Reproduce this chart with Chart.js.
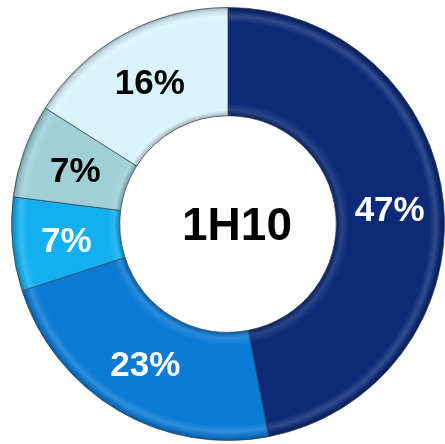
<!DOCTYPE html>
<html>
<head>
<meta charset="utf-8">
<script src="https://cdn.jsdelivr.net/npm/chart.js@4/dist/chart.umd.min.js"></script>
<style>
  html, body { margin: 0; padding: 0; background: #fff; overflow: hidden; }
  #wrap { position: absolute; left: 11px; top: 7px; width: 434px; height: 434px; }
</style>
</head>
<body>
<div id="wrap"><canvas id="donut" width="434" height="434"></canvas></div>
<script>
// dados do gráfico
const categorias = ['A', 'B', 'C', 'D', 'E'];
const valores = [47, 23, 7, 7, 16];
const rotulos = ['47%', '23%', '7%', '7%', '16%'];
const titulo = '1H10';

const cores = ['#0d2a78', '#0b7bd6', '#12b0f0', '#9fd0d8', '#d9f3fb'];
const coresTexto = ['#ffffff', '#ffffff', '#ffffff', '#000000', '#000000'];

function sombra(hex, f) {
    const n = parseInt(hex.slice(1), 16);
    let r = (n >> 16) & 255, g = (n >> 8) & 255, b = n & 255;
    if (f < 0) { r *= 1 + f; g *= 1 + f; b *= 1 + f; }
    else { r += (255 - r) * f; g += (255 - g) * f; b += (255 - b) * f; }
    return `rgb(${Math.round(r)},${Math.round(g)},${Math.round(b)})`;
}

// preenchimento com efeito de bisel
function preenchimento(context) {
    const chart = context.chart;
    const area = chart.chartArea;
    const base = cores[context.dataIndex];
    if (!area) return base;
    const cx = (area.left + area.right) / 2;
    const cy = (area.top + area.bottom) / 2;
    const r = Math.min(area.right - area.left, area.bottom - area.top) / 2 - 0.5;
    const ri = r * 0.5;
    const g = chart.ctx.createRadialGradient(cx, cy, ri, cx, cy, r);
    g.addColorStop(0, sombra(base, -0.25));
    g.addColorStop(0.05, sombra(base, 0.12));
    g.addColorStop(0.12, base);
    g.addColorStop(0.86, base);
    g.addColorStop(0.92, sombra(base, 0.15));
    g.addColorStop(0.97, sombra(base, -0.1));
    g.addColorStop(1, sombra(base, -0.3));
    return g;
}

const rotulosPlugin = {
    id: 'rotulos',
    afterDatasetsDraw(chart) {
        const ctx = chart.ctx;
        const meta = chart.getDatasetMeta(0);
        ctx.save();
        ctx.textAlign = 'center';
        ctx.textBaseline = 'middle';
        ctx.font = 'bold 35px "Liberation Sans", Arial, sans-serif';
        meta.data.forEach((arc, i) => {
            const p = arc.getCenterPoint();
            ctx.fillStyle = coresTexto[i];
            ctx.fillText(rotulos[i], p.x, p.y + 3);
        });
        const a = meta.data[0];
        ctx.fillStyle = '#000';
        ctx.font = 'bold 46px "Liberation Sans", Arial, sans-serif';
        ctx.fillText(titulo, a.x + 9, a.y + 3);
        ctx.restore();
    }
};

const ctx = document.getElementById('donut').getContext('2d');
const grafico = new Chart(ctx, {
    type: 'doughnut',
    data: {
        labels: categorias,
        datasets: [{
            data: valores,
            backgroundColor: preenchimento,
            borderColor: 'rgba(55,65,80,0.75)',
            borderWidth: 1
        }]
    },
    options: {
        responsive: false,
        animation: false,
        cutout: '50%',
        layout: { padding: 0 },
        plugins: {
            legend: { display: false },
            tooltip: { enabled: false }
        }
    },
    plugins: [rotulosPlugin]
});
</script>
</body>
</html>
